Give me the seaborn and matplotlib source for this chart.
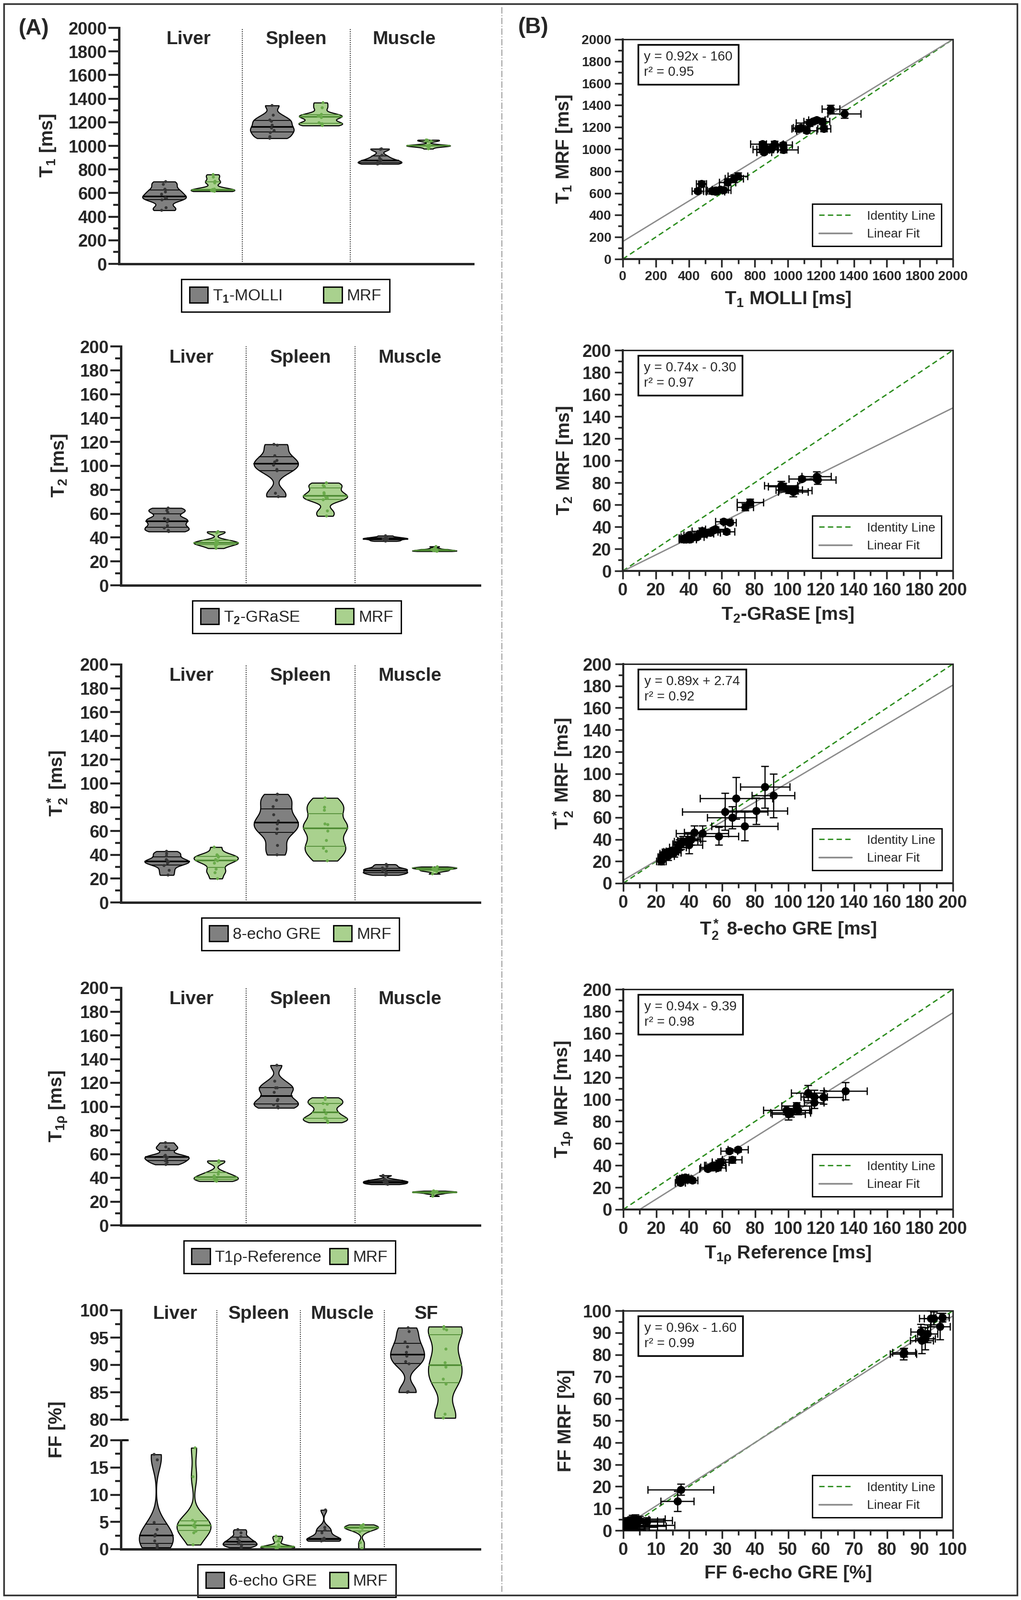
import numpy as np
import pandas as pd
import matplotlib
matplotlib.use("Agg")
import matplotlib.pyplot as plt
import matplotlib.transforms as mtransforms
from matplotlib.lines import Line2D
from matplotlib.patches import Patch, Rectangle
from matplotlib.collections import LineCollection
from matplotlib.ticker import MultipleLocator
import seaborn as sns

sns.set_theme(style="ticks")
plt.rcParams["font.family"] = ["Liberation Sans", "DejaVu Sans"]
plt.rcParams["font.weight"] = "bold"
plt.rcParams["axes.labelweight"] = "bold"
plt.rcParams["mathtext.fontset"] = "custom"
plt.rcParams["mathtext.rm"] = "Liberation Sans"
plt.rcParams["mathtext.it"] = "Liberation Sans:italic"
plt.rcParams["mathtext.bf"] = "Liberation Sans:bold"

# ---------------- data (one value per subject, paired reference / MRF) ----------------
tissues = ["Liver", "Spleen", "Muscle"]
tissues_ff = ["Liver", "Spleen", "Muscle", "SF"]

# T1 [ms]
t1_ref = [[454, 476, 542, 557, 560, 590, 610, 633, 674, 697],
          [1064, 1078, 1113, 1130, 1151, 1175, 1208, 1219, 1260, 1342],
          [847, 847, 856, 862, 872, 882, 897, 920, 971, 975]]
t1_mrf = [[622, 686, 618, 626, 615, 634, 630, 700, 735, 757],
          [1187, 1196, 1172, 1240, 1252, 1267, 1252, 1187, 1366, 1323],
          [1050, 1002, 975, 998, 1005, 1000, 1008, 1048, 1040, 995]]
t1_ref_sd = [[35, 30, 40, 45, 55, 50, 45, 50, 55, 60],
             [40, 45, 60, 80, 55, 50, 45, 40, 55, 100],
             [75, 60, 45, 50, 40, 55, 45, 50, 55, 85]]
t1_mrf_sd = [[20, 25, 22, 20, 25, 20, 22, 28, 35, 30],
             [25, 20, 25, 30, 20, 20, 25, 25, 35, 40],
             [20, 25, 20, 20, 25, 20, 20, 25, 20, 25]]

# T2 [ms]
t2_ref = [[45, 46, 48, 50, 53, 55, 56, 61, 64.7, 62.7],
          [74.2, 77.1, 95.9, 97, 100.6, 103.3, 104.5, 108.5, 117.3, 118],
          [37, 37.5, 38, 38.5, 39, 39.2, 39.5, 40, 40.5, 41.5]]
t2_mrf = [[31, 33, 36, 34, 35, 37, 38, 45, 44, 35.5],
          [58, 62.3, 77.5, 76.5, 73.5, 71.6, 73, 83.6, 85.8, 82.7],
          [28.5, 29, 30, 28.8, 29.5, 31, 29.2, 32.5, 28.6, 30]]
t2_ref_sd = [[4, 5, 6, 5, 6, 7, 6, 5, 4, 5],
             [5, 8, 10, 9, 8, 9, 10, 8, 9, 11],
             [3, 3, 4, 3, 3, 4, 3, 3, 4, 3]]
t2_mrf_sd = [[2, 2, 3, 2, 3, 2, 2, 2, 2, 2],
             [3, 3, 4, 3, 3, 4, 3, 2, 4, 4],
             [1.5, 1.5, 2, 1.5, 1.5, 2, 1.5, 2, 1.5, 2]]

# T2* [ms]
t2s_ref = [[23, 27, 31, 33, 34, 35, 36, 39, 41, 43],
           [40, 47.9, 58, 61.7, 66, 68.5, 73.7, 80.5, 85.9, 91],
           [23, 24, 25, 25.5, 26.5, 27.5, 28, 29, 30.5, 32]]
t2s_mrf = [[20, 25, 28, 33, 35, 36, 38, 39, 40, 46.5],
           [35, 45.6, 43, 65.4, 60, 77.5, 52.1, 66, 87.8, 80],
           [24, 26, 27, 28, 28.5, 29, 27, 29.5, 29, 30]]
t2s_ref_sd = [[3, 4, 4, 5, 4, 5, 5, 6, 6, 6],
              [8, 16, 12, 26, 15, 22, 20, 19, 15, 13],
              [2, 2, 3, 2, 3, 3, 2, 3, 3, 3]]
t2s_mrf_sd = [[3, 4, 4, 4, 5, 5, 5, 6, 5, 6],
              [8, 7, 8, 17, 10, 19, 13, 12, 19, 20],
              [2, 2, 2, 2, 2, 2, 2, 2, 2, 2]]

# T1rho [ms]
t1r_ref = [[51.2, 53, 54.3, 56, 57.2, 58, 59, 64.2, 66, 69.6],
           [98.9, 100.2, 101.5, 105, 106, 112, 115.8, 115.8, 121.4, 134.8],
           [34.5, 35, 35.5, 36, 36.5, 37, 37.5, 38, 39, 42]]
t1r_mrf = [[37.1, 38.5, 40.2, 40, 37.7, 41.7, 43, 53.2, 45.1, 54.4],
           [90.3, 86.6, 88, 94, 90.3, 106, 102.6, 97, 102, 107.6],
           [24.5, 27, 28, 28.5, 27.5, 28, 29, 28.5, 28, 26.5]]
t1r_ref_sd = [[5, 6, 5, 6, 5, 4, 5, 5, 6, 6],
              [14, 10, 12, 9, 8, 10, 8, 6, 12, 13],
              [3, 3, 3, 2, 3, 3, 2, 3, 3, 3]]
t1r_mrf_sd = [[2, 3, 2, 3, 2, 3, 3, 2, 3, 2],
              [4, 5, 4, 3, 4, 7, 6, 5, 6, 8],
              [2, 2, 2, 2, 2, 2, 2, 2, 2, 2]]

# FF [%]
ff_ref = [[0.3, 0.5, 0.9, 1.5, 2.4, 2.7, 3.6, 4.9, 16.4, 17.4],
          [0.3, 0.6, 0.8, 1.0, 1.3, 1.5, 1.9, 2.3, 3.0, 3.6],
          [1.5, 1.6, 1.7, 1.8, 1.9, 2.0, 3.0, 3.5, 4.0, 7.2],
          [85.0, 85.1, 90.2, 90.6, 91.6, 92.3, 93.3, 94.2, 96.1, 96.8]]
ff_mrf = [[3.0, 0.8, 4.0, 3.3, 4.3, 5.0, 5.3, 4.5, 13.3, 18.6],
          [0.1, 0.2, 0.3, 0.4, 0.5, 0.5, 0.8, 1.5, 2.0, 2.4],
          [0.1, 4.0, 1.2, 3.8, 4.3, 4.1, 4.0, 3.2, 4.5, 3.9],
          [80.3, 81.0, 90.4, 86.5, 87.4, 89.6, 96.4, 96.6, 92.9, 97.0]]
ff_ref_sd = [[3, 4, 5, 6, 8, 5, 9, 10, 5, 10],
             [2, 3, 3, 4, 5, 5, 6, 8, 10, 12],
             [1.5, 2, 1.5, 2, 2, 2, 3, 3, 4, 5],
             [4, 3.5, 3, 3.5, 3, 3, 3.5, 3, 3, 2]]
ff_mrf_sd = [[1.5, 1.5, 2, 2, 2, 2, 2, 2, 4.5, 2.5],
             [1, 1, 1, 1, 1.5, 1, 1, 1.5, 2, 2],
             [1, 1.5, 1, 1.5, 1.5, 1.5, 1.5, 1.5, 2, 2],
             [2.5, 2, 3.5, 6, 5, 4, 3.5, 3, 6, 2]]

# linear fits (drawn) and the printed equations
fit_slopes = [0.92, 0.74, 0.89, 0.94, 0.96]
fit_icpts = [160, -0.30, 2.74, -9.39, 1.60]
eq_texts = ["y = 0.92x - 160\nr\u00b2 = 0.95",
            "y = 0.74x - 0.30\nr\u00b2 = 0.97",
            "y = 0.89x + 2.74\nr\u00b2 = 0.92",
            "y = 0.94x - 9.39\nr\u00b2 = 0.98",
            "y = 0.96x - 1.60\nr\u00b2 = 0.99"]

ref_names = ["T$_1$-MOLLI", "T$_2$-GRaSE", "8-echo GRE", "T1\u03c1-Reference", "6-echo GRE"]
violin_ylabels = [r"$\mathbf{T_1}$ [ms]", r"$\mathbf{T_2}$ [ms]", r"$\mathbf{T_2^*}$ [ms]",
                  r"$\mathbf{T_{1\rho}}$ [ms]"]
sc_xlabels = [r"$\mathbf{T_1}$ MOLLI [ms]", r"$\mathbf{T_2}$-GRaSE [ms]",
              r"$\mathbf{T_2^*}$ 8-echo GRE [ms]", r"$\mathbf{T_{1\rho}}$ Reference [ms]",
              "FF 6-echo GRE [%]"]
sc_ylabels = [r"$\mathbf{T_1}$ MRF [ms]", r"$\mathbf{T_2}$ MRF [ms]", r"$\mathbf{T_2^*}$ MRF [ms]",
              r"$\mathbf{T_{1\rho}}$ MRF [ms]", "FF MRF [%]"]

FILL = {"ref": "#808080", "MRF": "#a9d18e"}
DOTS = {"ref": "#363636", "MRF": "#6aab4b"}
MRF_LINE = "#4d8a32"
ID_GREEN = "#2a8c1c"
FIT_GRAY = "#8a8a8a"

W, H = 2128, 3335
fig = plt.figure(figsize=(W / 100, H / 100), dpi=100)


def px_rect(l, t, r, b):
    return [l / W, 1 - b / H, (r - l) / W, (b - t) / H]


def long_table(names, refs, mrfs):
    rows = []
    for t, r, m in zip(names, refs, mrfs):
        rows += [(t, "ref", v) for v in r]
        rows += [(t, "MRF", v) for v in m]
    return pd.DataFrame(rows, columns=["tissue", "method", "value"])


def restyle_quartiles(ax):
    groups = {}
    for ln in ax.lines:
        xs = np.asarray(ln.get_xdata(), dtype=float)
        ys = np.asarray(ln.get_ydata(), dtype=float)
        if xs.size != 2 or ys[0] != ys[1]:
            continue
        xm = xs.mean()
        groups.setdefault((int(np.round(xm)), xm > np.round(xm)), []).append(ln)
    for (cat, is_mrf), lns in groups.items():
        lns.sort(key=lambda l: l.get_ydata()[0])
        for i, ln in enumerate(lns):
            ln.set_linestyle("-")
            ln.set_linewidth(2.4 if i == 1 else 1.2)
            ln.set_color(MRF_LINE if is_mrf else "black")
    for coll in ax.collections:
        if isinstance(coll, LineCollection) and len(coll.get_segments()) == 3:
            segs = coll.get_segments()
            xm = np.mean(segs[0][:, 0])
            coll.set_linestyle("solid")
            coll.set_linewidth([1.2, 2.4, 1.2])
            coll.set_color(MRF_LINE if xm > np.round(xm) else "black")


def draw_violins(ax, df, names):
    sns.violinplot(data=df, x="tissue", y="value", hue="method", order=names,
                   hue_order=["ref", "MRF"], palette=FILL, cut=0, inner="quart",
                   density_norm="width", bw_adjust=0.55, width=0.9, gap=0.1,
                   linewidth=1.6, linecolor="black", saturation=1, legend=False, ax=ax)
    restyle_quartiles(ax)
    n0 = len(ax.collections)
    sns.stripplot(data=df, x="tissue", y="value", hue="method", order=names,
                  hue_order=["ref", "MRF"], palette=DOTS, dodge=True, jitter=0.05,
                  size=4.5, legend=False, ax=ax, zorder=5)
    # push dots out to the violin centres (+-0.225)
    for coll in ax.collections[n0:]:
        off = np.array(coll.get_offsets())
        if len(off):
            side = np.sign(off[:, 0] - np.round(off[:, 0]))
            off[:, 0] = off[:, 0] + side * 0.027
            coll.set_offsets(off)
    ax.set_xlim(-0.645, len(names) - 1 + 0.64)
    ax.set_xticks([])
    ax.set_xlabel("")
    ax.set_ylabel("")
    ax.tick_params(axis="x", length=0)
    ax.tick_params(axis="y", which="major", length=16, width=3, labelsize=26, pad=2)
    ax.tick_params(axis="y", which="minor", length=8.5, width=3)
    for s in ["left", "bottom"]:
        ax.spines[s].set_linewidth(3.6)
    sns.despine(ax=ax)


def violin_legend(ax, label, cx, dy, cs):
    handles = [Patch(facecolor=FILL["ref"], edgecolor="black", linewidth=2),
               Patch(facecolor=FILL["MRF"], edgecolor="black", linewidth=2)]
    leg = ax.legend(handles, [label, "MRF"], loc="upper center", bbox_to_anchor=(cx, -dy),
                    ncol=2, frameon=True, fancybox=False, edgecolor="black", framealpha=1,
                    prop={"size": 24, "weight": "normal"}, handlelength=1.15,
                    handleheight=1.15, handletextpad=0.3, columnspacing=cs, borderpad=0.5)
    leg.get_frame().set_linewidth(2)


def category_labels(ax, names, yfrac):
    tr = mtransforms.blended_transform_factory(ax.transData, ax.transAxes)
    for i, t in enumerate(names):
        ax.text(i, yfrac, t, transform=tr, ha="center", va="center", fontsize=28)


# ---------------- left column: violins ----------------
violin_sets = [(t1_ref, t1_mrf, 2000, 200), (t2_ref, t2_mrf, 200, 20),
               (t2s_ref, t2s_mrf, 200, 20), (t1r_ref, t1r_mrf, 200, 20)]
violin_rects = [(248, 58, 986, 550), (252, 722, 1000, 1220),
                (252, 1385, 1000, 1881), (252, 2059, 1000, 2554)]
leg_cx = [0.47, 0.49, 0.50, 0.47]
leg_cs = [2.6, 2.2, 0.8, 0.5]

for k, ((refs, mrfs, top, major), rc) in enumerate(zip(violin_sets, violin_rects)):
    ax = fig.add_axes(px_rect(*rc))
    draw_violins(ax, long_table(tissues, refs, mrfs), tissues)
    ax.set_ylim(0, top)
    ax.yaxis.set_major_locator(MultipleLocator(major))
    ax.yaxis.set_minor_locator(MultipleLocator(major / 2))
    ax.set_ylabel(violin_ylabels[k], fontsize=28, labelpad=16)
    for i in range(len(tissues) - 1):
        ax.axvline(i + 0.5, color="black", ls=(0, (1, 1.5)), lw=1.3, zorder=0)
    category_labels(ax, tissues, 0.952)
    violin_legend(ax, ref_names[k], leg_cx[k], 15 / (rc[3] - rc[1]), leg_cs[k])

# FF panel with broken y axis
df_ff = long_table(tissues_ff, ff_ref, ff_mrf)
ax_top = fig.add_axes(px_rect(252, 2731, 1000, 2959))
ax_bot = fig.add_axes(px_rect(252, 3002, 1000, 3229))
for ax, lo, hi in [(ax_top, 80, 100), (ax_bot, 0, 20)]:
    draw_violins(ax, df_ff, tissues_ff)
    ax.set_ylim(lo, hi)
    ax.yaxis.set_major_locator(MultipleLocator(5))
    ax.yaxis.set_minor_locator(MultipleLocator(2.5))
ax_top.spines["bottom"].set_visible(False)
ax_top.plot([0, 0.022], [0, 0], transform=ax_top.transAxes, color="black", lw=3,
            clip_on=False, solid_capstyle="butt")
ax_bot.plot([0, 0.022], [1, 1], transform=ax_bot.transAxes, color="black", lw=3,
            clip_on=False, solid_capstyle="butt")
for i in range(len(tissues_ff) - 1):
    ax_bot.axvline(i + 0.5, ymin=0, ymax=(3229 - 2731) / (3229 - 3002), color="black",
                   ls=(0, (1, 1.5)), lw=1.3, zorder=0, clip_on=False)
category_labels(ax_top, tissues_ff, 0.965)
violin_legend(ax_bot, ref_names[4], 0.49, 15 / 227, 0.8)
fig.text(119 / W, 1 - 2980 / H, "FF [%]", rotation=90, ha="center", va="center", fontsize=28)

# ---------------- right column: agreement scatter plots ----------------
scatter_sets = [(t1_ref, t1_mrf, t1_ref_sd, t1_mrf_sd, 2000, 200, 20),
                (t2_ref, t2_mrf, t2_ref_sd, t2_mrf_sd, 200, 20, 26),
                (t2s_ref, t2s_mrf, t2s_ref_sd, t2s_mrf_sd, 200, 20, 26),
                (t1r_ref, t1r_mrf, t1r_ref_sd, t1r_mrf_sd, 200, 20, 26),
                (ff_ref, ff_mrf, ff_ref_sd, ff_mrf_sd, 100, 10, 26)]
scatter_rects = [(1298, 82, 1986, 540), (1298, 730, 1986, 1190), (1299, 1384, 1986, 1841),
                 (1299, 2062, 1986, 2521), (1299, 2732, 1986, 3190)]

for k, ((refs, mrfs, rsd, msd, lim, major, tfs), rc) in enumerate(zip(scatter_sets, scatter_rects)):
    ax = fig.add_axes(px_rect(*rc))
    x = np.concatenate(refs)
    y = np.concatenate(mrfs)
    ax.axline((0, 0), slope=1, color=ID_GREEN, lw=2, ls=(0, (4, 2.5)), zorder=2)
    ax.axline((0, fit_icpts[k]), slope=fit_slopes[k], color=FIT_GRAY, lw=2, zorder=2)
    ax.errorbar(x, y, xerr=np.concatenate(rsd), yerr=np.concatenate(msd), fmt="none",
                ecolor="black", elinewidth=1.8, capsize=6, capthick=1.8, zorder=3)
    sns.scatterplot(x=x, y=y, color="black", s=150, linewidth=0, zorder=4, legend=False, ax=ax)
    ax.set_xlim(0, lim)
    ax.set_ylim(0, lim)
    for axis in (ax.xaxis, ax.yaxis):
        axis.set_major_locator(MultipleLocator(major))
        axis.set_minor_locator(MultipleLocator(major / 2))
    ax.tick_params(which="major", length=12, width=2.5, labelsize=tfs, pad=5)
    ax.tick_params(which="minor", length=7, width=2.5)
    ax.spines["left"].set_linewidth(3)
    ax.spines["bottom"].set_linewidth(3)
    ax.spines["top"].set_linewidth(2.2)
    ax.spines["right"].set_linewidth(2.2)
    ax.set_xlabel(sc_xlabels[k], fontsize=28, labelpad=10)
    ax.set_ylabel(sc_ylabels[k], fontsize=28, labelpad=12)
    ax.text(0.064, 0.948, eq_texts[k], transform=ax.transAxes, ha="left", va="top",
            fontsize=20, fontweight="normal", linespacing=1.3, zorder=6,
            bbox=dict(boxstyle="square,pad=0.45", fc="white", ec="black", lw=2.5))
    handles = [Line2D([], [], color=ID_GREEN, lw=2, ls=(0, (4, 2.5)), label="Identity Line"),
               Line2D([], [], color=FIT_GRAY, lw=2.5, label="Linear Fit")]
    leg = ax.legend(handles=handles, loc="lower right", bbox_to_anchor=(0.985, 0.03),
                    fancybox=False, edgecolor="black", framealpha=1,
                    prop={"size": 19, "weight": "normal"}, handlelength=2.6,
                    handletextpad=1.2, borderpad=0.5, labelspacing=0.5)
    leg.get_frame().set_linewidth(2)

# ---------------- figure decorations ----------------
fig.text(39 / W, 1 - 60 / H, "(A)", fontsize=33, ha="left", va="center")
fig.text(1080 / W, 1 - 57 / H, "(B)", fontsize=33, ha="left", va="center")
fig.add_artist(Rectangle((8 / W, 1 - 3325 / H), 2112 / W, 3317 / H, transform=fig.transFigure,
                         fill=False, edgecolor="#333333", linewidth=2.5))
fig.add_artist(Line2D([1046 / W, 1046 / W], [1 - 15 / H, 1 - 3318 / H], transform=fig.transFigure,
                      color="#a0a0a0", lw=1.5, ls="-."))

fig.savefig("out.png", dpi=100)
